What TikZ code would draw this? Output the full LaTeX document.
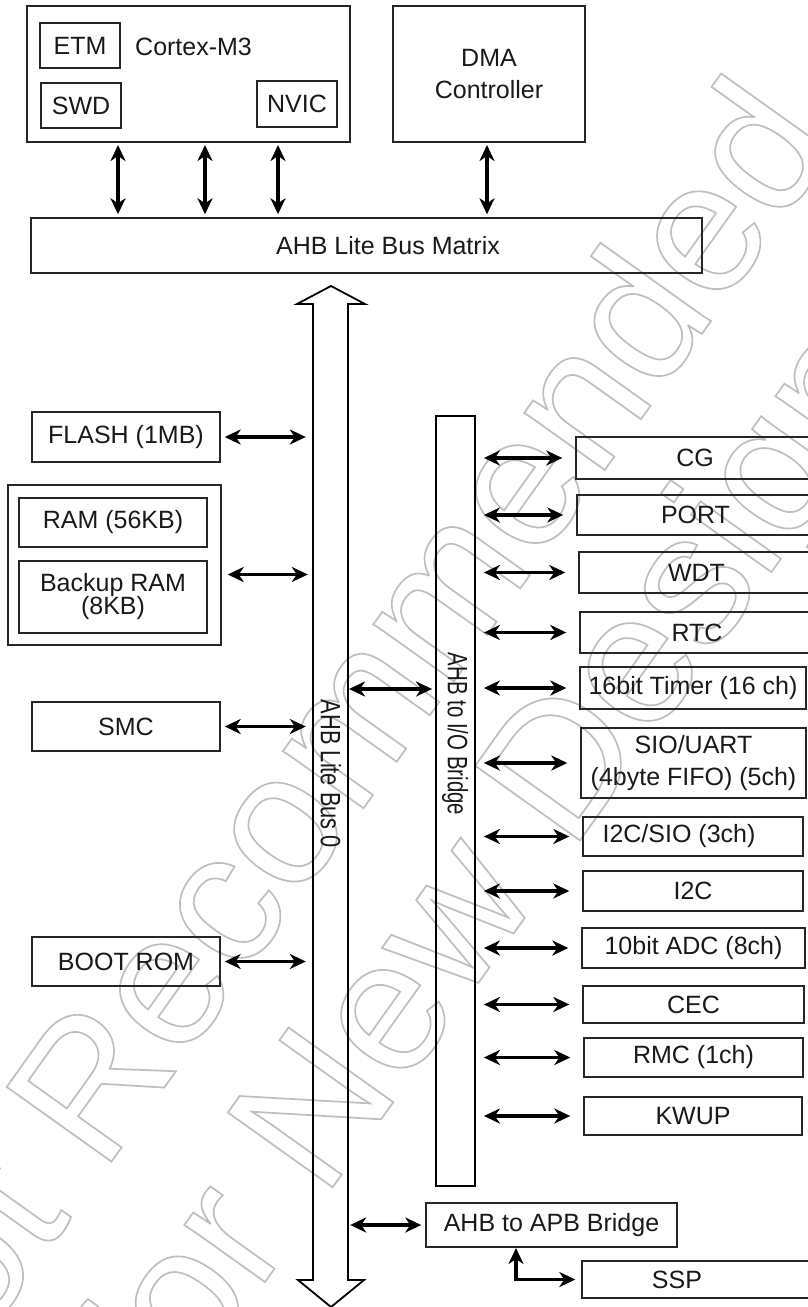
\documentclass[tikz,border=0pt]{standalone}
\usepackage{fontspec}
\usepackage{graphicx}
\setmainfont{Liberation Sans}
\usetikzlibrary{arrows.meta,calc}
\newcommand\mytightlines{\lineskiplimit=-30pt\relax\lineskip=0pt\relax}
\begin{document}
\begin{tikzpicture}[x=1pt,y=-1pt,
  box/.style={draw=black!85, line width=1.4pt, inner sep=0pt, text=black!90,
    font=\fontsize{25}{32}\selectfont, align=center},
  lbl/.style={inner sep=0pt, text=black!90, font=\fontsize{25}{32}\selectfont, align=center},
  wh/.style 2 args={minimum width=#1pt, minimum height=#2pt},
  dbl/.style={line width=3.2pt, line join=miter,
    {Stealth[length=16pt,width=15pt,inset=5pt]}-{Stealth[length=16pt,width=15pt,inset=5pt]}},
  wmark/.style={inner sep=0pt, anchor=base west, rotate=54.5, text=black!25,
    font=\fontsize{187}{220}\selectfont},
]
\useasboundingbox (0,0) rectangle (807,1307);

% watermark (outlined text)
\begin{scope}
\node[wmark] (wm1) at (-96.6,1453.3) {\special{pdf:literal direct 1 Tr 1.7 w}Not Recommended};
\node[wmark] (wm2) at (166.8,1419.7) {\special{pdf:literal direct 1 Tr 1.7 w}for New Design};
\end{scope}

% top blocks
\node[box, wh={323}{136}] (cortex) at (188.5,74) {};
\node[lbl, anchor=west] (cortexlbl) at (135,47) {Cortex-M3};
\node[box, wh={80}{45}] (etm) at (80,45.5) {ETM};
\node[box, wh={80}{45}] (swd) at (81,105.5) {SWD};
\node[box, wh={80}{46}] (nvic) at (297,104) {NVIC};
\node[box, wh={192}{136}] (dma) at (489,74) {DMA\\Controller};
\node[box, wh={671}{55}] (matrix) at (366.5,245.5) {};
\node[lbl] (matrixlbl) at (388,246) {AHB Lite Bus Matrix};

% left memories
\node[box, wh={188}{50}] (flash) at (126,437) {FLASH (1MB)};
\node[box, wh={213}{160}] (ramgrp) at (114.5,565) {};
\node[box, wh={188}{49}] (ram) at (113,522.5) {RAM (56KB)};
\node[box, wh={188}{72}, font={\fontsize{25}{23}\selectfont\mytightlines}] (bram) at (113,597) {Backup RAM\\(8KB)};
\node[box, wh={188}{49}] (smc) at (126,726.5) {SMC};
\node[box, wh={188}{49}] (boot) at (126,961.5) {BOOT ROM};

% AHB Lite Bus 0 (hollow double arrow)
\node[inner sep=0pt, minimum width=35pt, minimum height=1021pt] (bus) at (330.5,796.5) {};
\draw[line width=1.8pt, line join=miter] (331,286) -- (365,304) -- (348,304) -- (348,1280)
  -- (364,1280) -- (331,1307) -- (298,1280) -- (313,1280) -- (313,304) -- (297,304) -- cycle;
\node[lbl, rotate=-90] (buslbl) at (331,774) {\scalebox{0.78}[1]{\fontsize{28}{30}\selectfont AHB Lite Bus 0}};

% AHB to I/O bridge
\node[draw=black, line width=1.8pt, inner sep=0pt, wh={39}{770}] (iob) at (455.5,801) {};
\node[lbl, rotate=-90] (ioblbl) at (455,734) {\scalebox{0.73}[1]{\fontsize{28}{30}\selectfont AHB to I/O Bridge}};

% peripherals
\node[box, wh={238}{42}] (cg) at (695,458) {CG};
\node[box, wh={237}{40}] (port) at (695.5,515) {PORT};
\node[box, wh={235}{41}] (wdt) at (696.5,572.5) {WDT};
\node[box, wh={234}{41}] (rtc) at (697,632.5) {RTC};
\node[box, wh={226}{42}] (timer) at (693,688) {16bit Timer (16 ch)};
\node[box, wh={225}{70}] (sio) at (693.5,763) {SIO/UART\\(4byte FIFO) (5ch)};
\node[box, wh={220}{39}] (i2csio) at (693,836.5) {};
\node[lbl] (i2csiolbl) at (679,836.5) {I2C/SIO (3ch)};
\node[box, wh={220}{40}] (i2c) at (693,891) {I2C};
\node[box, wh={223}{40}] (adc) at (693.5,948) {10bit ADC (8ch)};
\node[box, wh={221}{37}] (cec) at (693.5,1004.5) {CEC};
\node[box, wh={219}{39}] (rmc) at (693.5,1057.5) {RMC (1ch)};
\node[box, wh={218}{38}] (kwup) at (693,1116) {KWUP};
\node[box, wh={251}{44}] (apb) at (551.5,1225) {AHB to APB Bridge};
\node[box, wh={232}{37}] (ssp) at (698,1279.5) {};
\node[lbl] (ssplbl) at (677,1279.5) {SSP};

% vertical connectors to the bus matrix
\coordinate (c1) at (118,142);
\coordinate (c2) at (205,142);
\coordinate (c3) at (278,142);
\coordinate (d1) at (487,142);
\foreach \c in {c1,c2,c3,d1}
  \draw[dbl, shorten <=3pt, shorten >=3pt] (\c) -- (\c |- matrix.north);

% memories to bus
\draw[dbl, shorten <=4pt, shorten >=7pt] (flash.east) -- (flash.east -| bus.west);
\coordinate (ramport) at ($(ramgrp.east)+(0,9.5)$);
\draw[dbl, shorten <=6pt, shorten >=5pt] (ramport) -- (ramport -| bus.west);
\draw[dbl, shorten <=4pt, shorten >=7pt] (smc.east) -- (smc.east -| bus.west);
\draw[dbl, shorten <=4pt, shorten >=7pt] (boot.east) -- (boot.east -| bus.west);

% bus to bridges
\coordinate (busio) at (348,689);
\draw[dbl, shorten <=1pt, shorten >=3pt] (busio) -- (busio -| iob.west);
\draw[dbl, shorten <=2pt, shorten >=4pt] (apb.west -| bus.east) -- (apb.west);

% I/O bridge to peripherals
\foreach \n in {cg,port,wdt,rtc,timer,sio,i2csio,i2c,adc,cec,rmc,kwup}
  \draw[dbl, shorten <=8pt, shorten >=13pt] (\n.west -| iob.east) -- (\n.west);

% APB bridge to SSP
\coordinate (apbout) at (516,1247);
\draw[dbl, shorten <=1pt, shorten >=6pt] (apbout) |- (ssp.west);
\end{tikzpicture}
\end{document}
